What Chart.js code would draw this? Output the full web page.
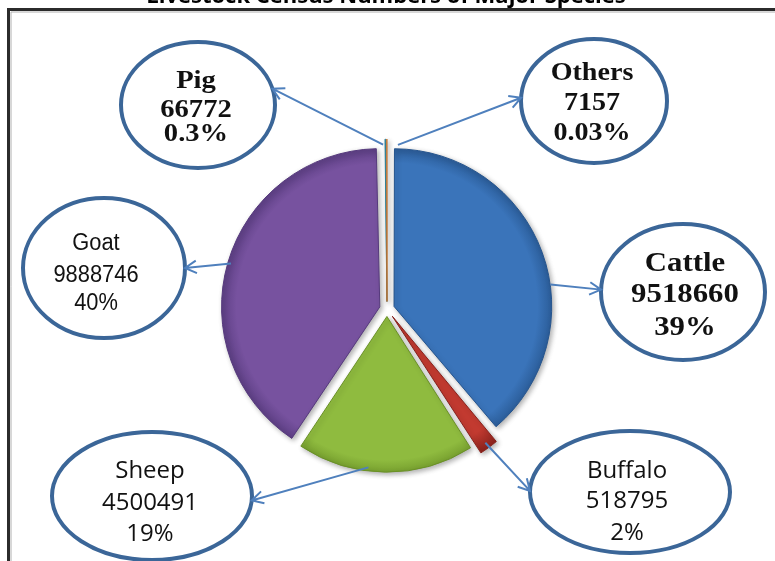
<!DOCTYPE html>
<html>
<head>
<meta charset="utf-8">
<title>Livestock census</title>
<script src="https://cdn.jsdelivr.net/npm/chart.js@4.4.1/dist/chart.umd.min.js"></script>
<style>
  html, body { margin: 0; padding: 0; background: #fff; }
</style>
</head>
<body>
<canvas id="pieChart" width="775" height="561"></canvas>
<script>
// data
const species = ['Cattle', 'Buffalo', 'Sheep', 'Goat', 'Pig', 'Others'];
const headCounts = [9518660, 518795, 4500491, 9888746, 66772, 7157];
const shareLabels = ['39%', '2%', '19%', '40%', '0.3%', '0.03%'];
const chartTitle = 'Livestock Census Numbers of Major Species';

const sliceColors = ['#3a74ba', '#c23a30', '#8fbb3f', '#77529f', '#4bacc6', '#f79646'];
const edgeColors = ['#26558e', '#8a221c', '#6a9126', '#563a7d', '#31859c', '#c2702a'];
const sliceOffsets = [30, 36, 30, 30, 30, 30];
const pieRadius = 155;

const serifBold = 'bold {s}px "Liberation Serif", "Times New Roman", serif';
const arial = '{s}px "Liberation Sans", Arial, sans-serif';
const calibri = '{s}px "Open Sans", sans-serif';

// callout bubbles: ellipse, text baselines, arrow anchor (deg clockwise from 12, null = slice middle)
const callouts = {
    Cattle:  { cx: 683, cy: 292, rx: 82, ry: 68, font: serifBold, size: 28, stretch: 1.1, tx: 685, lines: [271, 302, 335], tip: 182, anchor: 82, gap: 3 },
    Buffalo: { cx: 630, cy: 492, rx: 100, ry: 61, font: calibri, size: 24, stretch: 1, tx: 627, lines: [478, 508, 540], tip: 181, anchor: null, gap: 2 },
    Sheep:   { cx: 152, cy: 496, rx: 100, ry: 64, font: calibri, size: 24, stretch: 1, tx: 150, lines: [478, 510, 541], tip: 4, anchor: 187, gap: -3 },
    Goat:    { cx: 104, cy: 268, rx: 81, ry: 70, font: arial, size: 23, stretch: 0.95, tx: 96, lines: [250, 282, 310], tip: 0, anchor: null, gap: 0 },
    Pig:     { cx: 198, cy: 105, rx: 77, ry: 63, font: serifBold, size: 26, stretch: 1.1, tx: 196, lines: [88, 117, 141], tip: -15, anchor: 358.6, gap: 2 },
    Others:  { cx: 594, cy: 101, rx: 73, ry: 62, font: serifBold, size: 26, stretch: 1.08, tx: 592, lines: [80, 110, 140], tip: 183, anchor: 4, gap: 2 }
};

function rimFill(context) {
    const i = context.dataIndex;
    const chart = context.chart;
    const area = chart.chartArea;
    if (!area || i === undefined) return sliceColors[i || 0];
    const cx = (area.left + area.right) / 2;
    const cy = (area.top + area.bottom) / 2;
    const g = chart.ctx.createRadialGradient(cx, cy, 0, cx, cy, pieRadius + 8);
    g.addColorStop(0, sliceColors[i]);
    g.addColorStop(0.88, sliceColors[i]);
    g.addColorStop(1, edgeColors[i]);
    return g;
}

const framePlugin = {
    id: 'frame',
    beforeDraw(chart) {
        const ctx = chart.ctx;
        ctx.save();
        ctx.fillStyle = '#ffffff';
        ctx.fillRect(0, 0, chart.width, chart.height);
        // title, clipped by the top of the picture
        ctx.fillStyle = '#000000';
        ctx.font = 'bold 22px "Open Sans", sans-serif';
        ctx.textAlign = 'center';
        ctx.textBaseline = 'alphabetic';
        ctx.fillText(chartTitle, 386, 3);
        // border
        ctx.strokeStyle = '#b0b0b0';
        ctx.lineWidth = 1;
        ctx.beginPath();
        ctx.moveTo(11, chart.height);
        ctx.lineTo(11, 12);
        ctx.lineTo(chart.width, 12);
        ctx.stroke();
        ctx.strokeStyle = '#2b2b2b';
        ctx.lineWidth = 3;
        ctx.beginPath();
        ctx.moveTo(8.5, chart.height);
        ctx.lineTo(8.5, 9.5);
        ctx.lineTo(chart.width, 9.5);
        ctx.stroke();
        ctx.restore();
    },
    beforeDatasetsDraw(chart) {
        const ctx = chart.ctx;
        ctx.save();
        ctx.shadowColor = 'rgba(0,0,0,0.3)';
        ctx.shadowBlur = 5;
        ctx.shadowOffsetX = 2;
        ctx.shadowOffsetY = 2;
    },
    afterDatasetsDraw(chart) {
        chart.ctx.restore();
    }
};

const calloutPlugin = {
    id: 'callouts',
    afterDatasetsDraw(chart) {
        const ctx = chart.ctx;
        const meta = chart.getDatasetMeta(0);
        species.forEach((name, i) => {
            const c = callouts[name];
            const arc = meta.data[i];
            const p = arc.getProps(['x', 'y', 'startAngle', 'endAngle', 'outerRadius'], true);
            const off = (arc.options.offset || 0) / 4;
            const mid = (p.startAngle + p.endAngle) / 2;
            const ox = p.x + Math.cos(mid) * off;
            const oy = p.y + Math.sin(mid) * off;
            const a = c.anchor === null ? mid : (c.anchor - 90) * Math.PI / 180;
            const r = p.outerRadius + c.gap;
            const sx = ox + Math.cos(a) * r;
            const sy = oy + Math.sin(a) * r;
            const t = c.tip * Math.PI / 180;
            const ex = c.cx + c.rx * Math.cos(t);
            const ey = c.cy + c.ry * Math.sin(t);

            ctx.save();
            // bubble
            ctx.beginPath();
            ctx.ellipse(c.cx, c.cy, c.rx, c.ry, 0, 0, Math.PI * 2);
            ctx.fillStyle = '#ffffff';
            ctx.fill();
            ctx.lineWidth = 4;
            ctx.strokeStyle = '#3b6698';
            ctx.stroke();

            // arrow
            ctx.strokeStyle = '#4f80bd';
            ctx.lineWidth = 2;
            ctx.beginPath();
            ctx.moveTo(sx, sy);
            ctx.lineTo(ex, ey);
            const ang = Math.atan2(ey - sy, ex - sx);
            ctx.moveTo(ex - 13 * Math.cos(ang - 0.5), ey - 13 * Math.sin(ang - 0.5));
            ctx.lineTo(ex, ey);
            ctx.lineTo(ex - 13 * Math.cos(ang + 0.5), ey - 13 * Math.sin(ang + 0.5));
            ctx.stroke();

            // text
            ctx.fillStyle = '#111111';
            ctx.font = c.font.replace('{s}', c.size);
            ctx.textAlign = 'center';
            ctx.textBaseline = 'alphabetic';
            const texts = [name, String(headCounts[i]), shareLabels[i]];
            texts.forEach((txt, k) => {
                ctx.save();
                ctx.translate(c.tx, c.lines[k]);
                ctx.scale(c.stretch, 1);
                ctx.fillText(txt, 0, 0);
                ctx.restore();
            });
            ctx.restore();
        });
    }
};

new Chart(document.getElementById('pieChart').getContext('2d'), {
    type: 'pie',
    data: {
        labels: species,
        datasets: [{
            data: headCounts,
            backgroundColor: rimFill,
            borderColor: edgeColors,
            borderWidth: 1,
            offset: sliceOffsets
        }]
    },
    options: {
        responsive: false,
        animation: false,
        events: [],
        radius: pieRadius,
        layout: { padding: { top: 57, bottom: 0, left: 0, right: 1 } },
        plugins: {
            legend: { display: false },
            title: { display: false },
            tooltip: { enabled: false }
        }
    },
    plugins: [framePlugin, calloutPlugin]
});
</script>
</body>
</html>
